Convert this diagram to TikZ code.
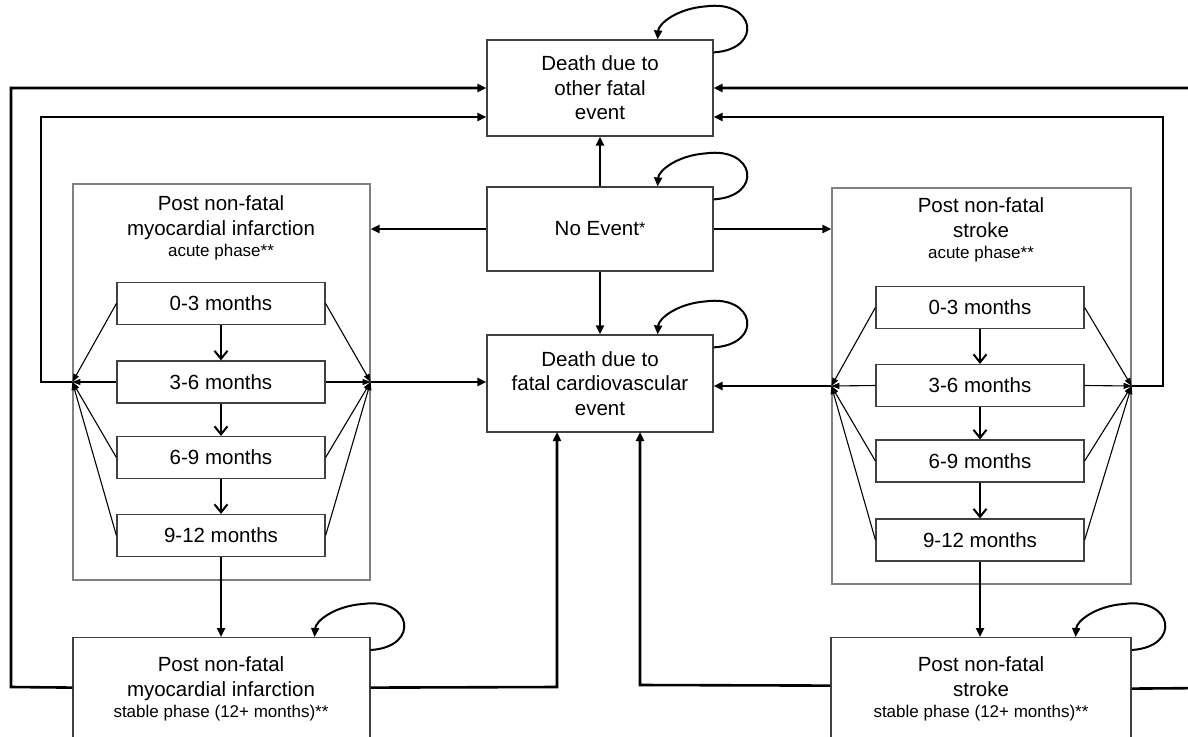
\documentclass[tikz,border=0pt]{standalone}
\usepackage{fontspec}
\setmainfont{Liberation Sans}
\usetikzlibrary{arrows.meta,calc}
\newcommand{\bigf}{\fontsize{20.5}{24.5}\selectfont}
\newcommand{\smallf}{\fontsize{17}{20}\selectfont}
\begin{document}
\begin{tikzpicture}[x=1pt,y=-1pt,
  box/.style={draw=black!75,line width=1.2pt,fill=white,inner sep=0pt,align=center,font=\bigf},
  outerbox/.style={draw=black!50,line width=1.2pt,inner sep=0pt},
  monthbox/.style={draw=black!75,line width=1.2pt,inner sep=0pt,minimum width=208pt,minimum height=42pt,font=\bigf},
  txt/.style={inner sep=0pt,align=center,font=\bigf},
  thickarrow/.style={line width=2.6pt,-{Triangle[length=9pt,width=8pt]}},
  thinarrow/.style={line width=1.1pt,-{Triangle[length=8pt,width=6pt]}},
  montharrow/.style={line width=2pt,-{Straight Barb[length=8pt,width=13pt,line width=2pt]}},
  loopline/.style={line width=2pt,-{Triangle[length=9pt,width=8pt]}}
]
\useasboundingbox (0,0) rectangle (1188,736);
\clip (0,0) rectangle (1188,736);
\fill[white] (0,0) rectangle (1188,736);

% main central boxes
\node[box,minimum width=226pt,minimum height=96pt] (other) at (600,88) {Death due to\\other fatal\\event};
\node[box,minimum width=226pt,minimum height=84pt] (noev) at (600,229) {No Event\raisebox{2pt}{\fontsize{16}{16}\selectfont *}};
\node[box,minimum width=226pt,minimum height=97pt] (cv) at (600,383.5) {Death due to\\fatal cardiovascular\\event};

% MI acute
\node[outerbox,minimum width=297pt,minimum height=396pt] (mia) at (221.5,382) {};
\node[txt] (miatitle) at (221,228) {Post non-fatal\\myocardial infarction\\[-3pt]{\smallf acute phase**}};
\node[monthbox] (m1) at (221,303.5) {0-3 months};
\node[monthbox] (m2) at (221,382) {3-6 months};
\node[monthbox] (m3) at (221,457.5) {6-9 months};
\node[monthbox] (m4) at (221,535.5) {9-12 months};

% Stroke acute
\node[outerbox,minimum width=299pt,minimum height=396pt] (sta) at (981.5,386) {};
\node[txt] (statitle) at (981,230) {Post non-fatal\\stroke\\[-3pt]{\smallf acute phase**}};
\node[monthbox] (s1) at (980,307.5) {0-3 months};
\node[monthbox] (s2) at (980,385.5) {3-6 months};
\node[monthbox] (s3) at (980,461) {6-9 months};
\node[monthbox] (s4) at (980,540) {9-12 months};

% stable boxes
\node[box,minimum width=297pt,minimum height=130pt,anchor=north] (mis) at (221.5,637) {};
\node[txt] (mistext) at (221,689) {Post non-fatal\\myocardial infarction\\[-3pt]{\smallf stable phase (12+ months)**}};
\node[box,minimum width=300pt,minimum height=130pt,anchor=north] (sts) at (981,637) {};
\node[txt] (ststext) at (981,689) {Post non-fatal\\stroke\\[-3pt]{\smallf stable phase (12+ months)**}};

% month transitions
\draw[montharrow] (m1.south) -- (m2.north);
\draw[montharrow] (m2.south) -- (m3.north);
\draw[montharrow] (m3.south) -- (m4.north);
\draw[montharrow] (s1.south) -- (s2.north);
\draw[montharrow] (s2.south) -- (s3.north);
\draw[montharrow] (s3.south) -- (s4.north);
\draw[thickarrow] (m4.south) -- (m4.south |- mis.north);
\draw[thickarrow] (s4.south) -- (s4.south |- sts.north);

% converging thin arrows
\coordinate (mil) at (mia.west);
\coordinate (mir) at (mia.east);
\coordinate (stl) at (sta.west);
\coordinate (str) at (sta.east);
\foreach \m in {m1,m2,m3,m4}{
  \draw[thinarrow] (\m.west) -- (mil);
  \draw[thinarrow] (\m.east) -- (mir);
}
\foreach \m in {s1,s2,s3,s4}{
  \draw[thinarrow] (\m.west) -- (stl);
  \draw[thinarrow] (\m.east) -- (str);
}

% No Event transitions
\draw[thickarrow] (noev.north) -- (other.south);
\draw[thickarrow] (noev.south) -- (cv.north);
\draw[thickarrow] (noev.west) -- (noev.west -| mia.east);
\draw[thickarrow] (noev.east) -- (noev.east -| sta.west);

% acute to deaths
\draw[thickarrow] (mir) -- (mir -| cv.west);
\draw[thickarrow] (stl) -- (stl -| cv.east);
\draw[thickarrow] (mil) -- (41,382) |- ($(other.west)+(0,29)$);
\draw[thickarrow] (str) -- (1163,386) |- ($(other.east)+(0,29)$);

% stable to deaths
\draw[thickarrow] ($(mis.west)+(0,-15)$) -- (11,687) |- (other.west);
\draw[thickarrow] ($(mis.east)+(0,-15)$) -- (557,687) -- (557,432);
\draw[thickarrow] ($(sts.west)+(0,-17)$) -- (640,685) -- (640,432);
\draw[thickarrow] ($(sts.east)+(0,-14)$) -- (1210,688) |- (other.east);

% self loops
\foreach \b in {other,noev,cv,mis,sts}{
  \draw[loopline] ($(\b.north east)+(0,13)$)
     .. controls ($(\b.north east)+(50,10)$) and ($(\b.north east)+(42,-40)$) ..
     ($(\b.north east)+(-8,-33)$)
     .. controls ($(\b.north east)+(-36,-31)$) and ($(\b.north east)+(-55,-16)$) ..
     ($(\b.north east)+(-56,0)$);
}
\end{tikzpicture}
\end{document}
